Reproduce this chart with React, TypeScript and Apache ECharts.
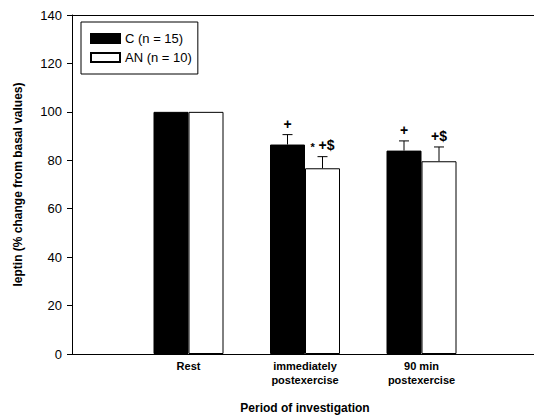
import React, { useEffect, useRef } from "react";
import * as echarts from "echarts";

const categories = ["", "Rest", "immediately\npostexercise", "90 min\npostexercise", ""];
const cValues = ["-", 100, 86.5, 84, "-"];
const anValues = ["-", 100, 76.7, 79.6, "-"];
const cErrors = [null, 0, 4.1, 4.0, null];
const anErrors = [null, 0, 4.8, 5.9, null];
const cMarks = ["", "", "+", "+", ""];
const anMarks = ["", "", "{s|*} +$", "+$", ""];
const yTicks = [0, 20, 40, 60, 80, 100, 120, 140];

const FONT = "Liberation Sans, Arial, sans-serif";

function errData(vals: any[], errs: any[], marks: string[]) {
  const out: any[] = [];
  vals.forEach((v, i) => {
    if (v === "-" || errs[i] === null) return;
    out.push([i, v, errs[i], marks[i]]);
  });
  return out;
}

function makeErr(offset: number, name: string, vals: any[], errs: any[], marks: string[]) {
  return {
    type: "custom",
    name,
    z: 5,
    data: errData(vals, errs, marks),
    encode: { x: 0, y: 1 },
    renderItem: (params: any, api: any) => {
      const i = api.value(0);
      const v = api.value(1);
      const e = api.value(2);
      const mark = marks[i];
      const top = api.coord([i, v + e]);
      const base = api.coord([i, v]);
      const x = top[0] + offset;
      const children: any[] = [];
      if (e > 0) {
        children.push({
          type: "line",
          shape: { x1: x, y1: base[1], x2: x, y2: top[1] },
          style: { stroke: "#000", lineWidth: 1 },
        });
        children.push({
          type: "line",
          shape: { x1: x - 5, y1: top[1], x2: x + 5, y2: top[1] },
          style: { stroke: "#000", lineWidth: 1 },
        });
      }
      if (mark) {
        children.push({
          type: "text",
          style: {
            text: mark,
            x: x,
            y: top[1] - 4,
            align: "center",
            verticalAlign: "bottom",
            font: `bold 14px ${FONT}`,
            fill: "#000",
            rich: {
              s: { fontSize: 11, fontWeight: "bold", fontFamily: FONT, padding: [4, 0, 0, 0] },
            },
          },
        });
      }
      return { type: "group", children };
    },
  };
}

export default function App() {
  const ref = useRef<HTMLDivElement>(null);
  useEffect(() => {
    const chart = echarts.init(ref.current!, null, { renderer: "svg" });
    chart.setOption({
      animation: false,
      backgroundColor: "#fff",
      textStyle: { fontFamily: FONT },
      grid: {
        left: 72,
        width: 466,
        top: 15,
        height: 339,
        outerBoundsMode: "none",
        containLabel: false,
        show: false,
      },
      legend: {
        left: 81,
        top: 22,
        orient: "vertical",
        itemWidth: 29,
        itemHeight: 9,
        itemGap: 6,
        padding: [10, 6, 10, 9],
        borderColor: "#000",
        borderWidth: 1,
        backgroundColor: "#fff",
        textStyle: { fontSize: 13, color: "#000", fontFamily: FONT },
        data: [
          { name: "C (n = 15)", icon: "rect" },
          { name: "AN (n = 10)", icon: "rect" },
        ],
      },
      xAxis: [
        {
          type: "category",
          data: categories,
          boundaryGap: false,
          axisLine: { lineStyle: { color: "#000", width: 1 } },
          axisTick: { show: false },
          axisLabel: {
            color: "#000",
            fontSize: 11,
            fontWeight: "bold",
            lineHeight: 14,
            margin: 5,
            interval: 0,
          },
          name: "Period of investigation",
          nameLocation: "middle",
          nameGap: 48,
          nameTextStyle: { fontSize: 12, fontWeight: "bold", color: "#000" },
        },
        {
          type: "category",
          position: "top",
          data: categories,
          boundaryGap: false,
          axisLine: { show: true, lineStyle: { color: "#000", width: 1 } },
          axisTick: { show: false },
          axisLabel: { show: false },
        },
      ],
      yAxis: {
        type: "value",
        min: 0,
        max: 140,
        interval: 20,
        axisLine: { show: true, lineStyle: { color: "#000", width: 1 } },
        axisTick: { show: true, length: 5, lineStyle: { color: "#000" } },
        splitLine: { show: false },
        axisLabel: {
          color: "#000",
          fontSize: 13,
          margin: 10,
          formatter: (v: number) => (yTicks.includes(v) ? String(v) : ""),
        },
        name: "leptin (% change from basal values)",
        nameLocation: "middle",
        nameGap: 48,
        nameTextStyle: { fontSize: 12, fontWeight: "bold", color: "#000" },
      },
      series: [
        {
          type: "bar",
          name: "C (n = 15)",
          data: cValues,
          barWidth: 35,
          barGap: "0%",
          itemStyle: { color: "#000", borderColor: "#000", borderWidth: 1 },
        },
        {
          type: "bar",
          name: "AN (n = 10)",
          data: anValues,
          barWidth: 35,
          barGap: "0%",
          itemStyle: { color: "#fff", borderColor: "#000", borderWidth: 1 },
        },
        makeErr(-17.5, "errC", cValues, cErrors, cMarks),
        makeErr(17.5, "errAN", anValues, anErrors, anMarks),
      ],
    });
    return () => chart.dispose();
  }, []);
  return (
    <div
      ref={ref}
      style={{ position: "absolute", left: 0, top: 0, width: 534, height: 419 }}
    />
  );
}
